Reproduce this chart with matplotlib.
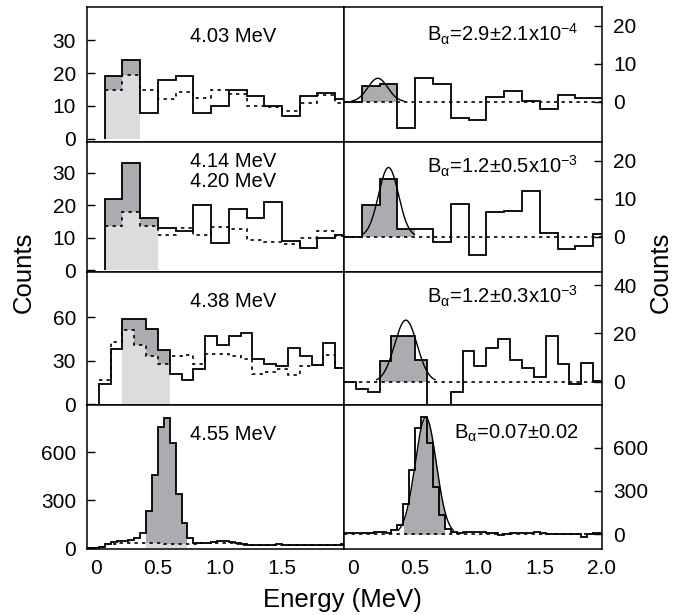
import numpy as np
import matplotlib.pyplot as plt

plt.rcParams['font.family'] = 'Liberation Sans'
plt.rcParams['mathtext.fontset'] = 'custom'
plt.rcParams['mathtext.rm'] = 'Liberation Sans'
plt.rcParams['mathtext.it'] = 'Liberation Sans:italic'
plt.rcParams['mathtext.default'] = 'regular'

# bin edges (MeV)
edges7 = np.arange(-1, 31, 2) / 14     # 1/7 MeV bins (4.03, 4.14/4.20)
edges10 = np.arange(-3, 86, 4) / 42    # 2/21 MeV bins (4.38)
edges21 = np.arange(-3, 87, 2) / 42    # 1/21 MeV bins (4.55)

# 4.03 MeV
raw1 = [19, 24, 8, 18, 19, 8, 10, 15, 13, 10, 7, 13, 14, 12]
bg1 = [15, 19.4, 15, 12, 14.2, 12.4, 14.9, 13.5, 10, 9.7, 8.5, 11, 13.2, 11]
sub1 = [0, 4.2, 4.6, -7, 6.2, 4.7, -4.3, -4.7, 1.3, 2.9, 0.3, -1.8, 1.8, 0.9, 0.9]
fit1 = (6.2, 0.2, 0.08)

# 4.14 / 4.20 MeV
raw2 = [22, 33, 16, 13, 12, 20, 8.5, 19, 16, 21, 9, 7, 10, 11]
bg2 = [13.6, 18, 13.6, 10.8, 12.9, 11, 13.4, 12.6, 9.3, 8.8, 8, 10, 12, 10.5]
sub2 = [0, 8.2, 15.1, 1.9, 1.9, -1.3, 8.6, -4.8, 6.6, 6.8, 12.1, 0.9, -3.3, -2.4, 0.6]
fit2 = (18.2, 0.286, 0.08)

# 4.38 MeV
raw3 = [14, 38, 59, 59, 52, 37, 21, 17, 24, 47, 41, 47, 49, 31, 28, 26, 39, 33, 27, 42, 25]
bg3 = [17, 43, 51, 41, 33.5, 28, 33, 34, 28, 34.6, 34.6, 33, 31, 21, 22, 24, 20, 26.5, 27, 34, 25]
sub3 = [0, -3, -4.4, 8.6, 18.9, 19, 9, -12, -12, -4.4, 12.7, 6.5, 13.8, 17.9, 9, 5.5, 2,
        18.9, 7.2, -1.1, 7.9, 0.3]
fit3 = (25.5, 0.425, 0.09)

# 4.55 MeV
raw4 = [2, 4, 10, 28, 40, 45, 47, 52, 62, 94, 231, 461, 755, 815, 660, 340, 156, 67, 31, 33,
        36, 40, 45, 44, 38, 32, 28, 22, 20, 22, 20, 22, 25, 24, 20, 22, 22, 21, 22, 20, 22, 21, 24, 26]
bg4 = [2, 4, 10, 25, 30, 32, 33, 33, 32, 32, 31, 31, 31, 30, 30, 30, 30, 29, 30, 31, 33, 35,
       36, 35, 32, 28, 24, 22, 21, 21, 21, 22, 22, 22, 21, 21, 21, 21, 21, 21, 21, 22, 22, 23]
sub4 = [7, 7, 8, 10, 12, 14, 18, 6, 30, 66, 211, 445, 734, 811, 633, 328, 136, 37, 15, 10,
        17, 19, 19, 15, 7, 6, -5, 3, 10, 12, 12, 12, 13, 11, 5, 3, 2, 2, 2, 0, -16, 5, 7, 10]
fit4 = (810, 0.585, 0.085)

levels = ['4.03 MeV', '4.14 MeV\n4.20 MeV', '4.38 MeV', '4.55 MeV']
ratios = [r'B$_{\alpha}$=2.9$\pm$2.1x10$^{-4}$', r'B$_{\alpha}$=1.2$\pm$0.5x10$^{-3}$',
          r'B$_{\alpha}$=1.2$\pm$0.3x10$^{-3}$', r'B$_{\alpha}$=0.07$\pm$0.02']

DARK = '#abacb0'
LIGHT = '#dcdcde'
DOT = (0, (2, 2.5))

fig = plt.figure(figsize=(6.73, 6.15), dpi=100)
W, H = 673, 615
tops = [7, 142, 272, 405]
bots = [142, 272, 405, 549]

rows = [
    # edges, left offset, raw, bg, gray(left idx), sub, gray(right idx), fit, ylims, yticks
    (edges7, 1, raw1, bg1, (0, 2), sub1, (1, 3), fit1, (-1, 40.2), (-10.6, 25), [0, 10, 20, 30], [0, 10, 20]),
    (edges7, 1, raw2, bg2, (0, 3), sub2, (1, 4), fit2, (-0.5, 39.5), (-9.3, 24.9), [0, 10, 20, 30], [0, 10, 20]),
    (edges10, 1, raw3, bg3, (2, 6), sub3, (3, 7), fit3, (-0.5, 91), (-9.6, 45.4), [0, 30, 60], [0, 20, 40]),
    (edges21, 0, raw4, bg4, (10, 17), sub4, None, fit4, (-4, 895), (-102, 895), [0, 300, 600], [0, 300, 600]),
]

for r, (e, off, raw, bg, gl, sub, gr, fit, yl, yr, tl, tr) in enumerate(rows):
    b = (H - bots[r]) / H
    h = (bots[r] - tops[r]) / H
    axl = fig.add_axes([87 / W, b, 257 / W, h])
    axr = fig.add_axes([344 / W, b, 258 / W, h])
    raw = np.array(raw, float)
    bg = np.array(bg, float)
    sub = np.array(sub, float)
    el = e[off:]

    # left: raw spectrum + background
    g0, g1 = gl
    axl.stairs(bg[g0:g1], el[g0:g1 + 1], baseline=0, fill=True, color=LIGHT, lw=0)
    axl.stairs(raw[g0:g1], el[g0:g1 + 1], baseline=bg[g0:g1], fill=True, color=DARK, lw=0)
    axl.stairs(raw, el, baseline=0, color='k', lw=1.3)
    axl.stairs(bg, el, baseline=None, color='k', lw=1.2, ls=DOT)

    # right: background subtracted + gaussian fit
    amp, mu, sig = fit
    xg = np.linspace(mu - 2.6 * sig, mu + 2.6 * sig, 200)
    yg = amp * np.exp(-0.5 * ((xg - mu) / sig) ** 2)
    axr.axhline(0, color='k', lw=1.2, ls=DOT)
    if gr is not None:
        axr.stairs(sub[gr[0]:gr[1]], e[gr[0]:gr[1] + 1], baseline=0, fill=True, color=DARK, lw=0)
    else:
        m = (xg >= e[10]) & (xg <= e[17])
        axr.fill_between(xg[m], 0, yg[m], color=DARK, lw=0)
    axr.stairs(sub, e, baseline=None, color='k', lw=1.3)
    axr.plot(xg, yg, color='k', lw=1.0)

    for ax, yli, tk in ((axl, yl, tl), (axr, yr, tr)):
        ax.set_xlim(-1 / 14, 2.0)
        ax.set_ylim(*yli)
        ax.set_yticks(tk)
        for s in ax.spines.values():
            s.set_linewidth(1.1)
        ax.tick_params(direction='in', length=6, width=1.0, labelsize=15, pad=7)
        ax.tick_params(axis='y', pad=8)
    axr.yaxis.tick_right()

    axl.set_xticks([0, 0.5, 1.0, 1.5])
    axr.set_xticks([0, 0.5, 1.0, 1.5, 2.0])
    for ax in (axl, axr):
        for t in ax.xaxis.get_major_ticks():
            if t.get_loc() in (0, 2.0):
                t.tick1line.set_visible(False)
    if r < 3:
        axl.set_xticklabels([])
        axr.set_xticklabels([])
    else:
        axl.set_xticklabels(['0', '0.5', '1.0', '1.5'])
        axr.set_xticklabels(['0', '0.5', '1.0', '1.5', '2.0'])

    # labels
    if r == 1:
        axl.text(0.57, 0.805, '4.14 MeV', transform=axl.transAxes, ha='center', va='baseline', fontsize=14.5)
        axl.text(0.57, 0.656, '4.20 MeV', transform=axl.transAxes, ha='center', va='baseline', fontsize=14.5)
    else:
        yb = [0.743, None, 0.74, 0.757][r]
        axl.text(0.57, yb, levels[r], transform=axl.transAxes, ha='center', va='baseline', fontsize=14.5)
    yb = [0.743, 0.754, 0.765, 0.769][r]
    axr.text(0.907, yb, ratios[r], transform=axr.transAxes, ha='right', va='baseline', fontsize=14.5)

fig.text(24 / W, 0.558, 'Counts', rotation=90, ha='center', va='center', fontsize=18.5)
fig.text(661 / W, 0.558, 'Counts', rotation=90, ha='center', va='center', fontsize=18.5)
fig.text(342 / W, 8.3 / H, 'Energy (MeV)', ha='center', va='baseline', fontsize=18.5)

fig.savefig('out.png', dpi=100)
